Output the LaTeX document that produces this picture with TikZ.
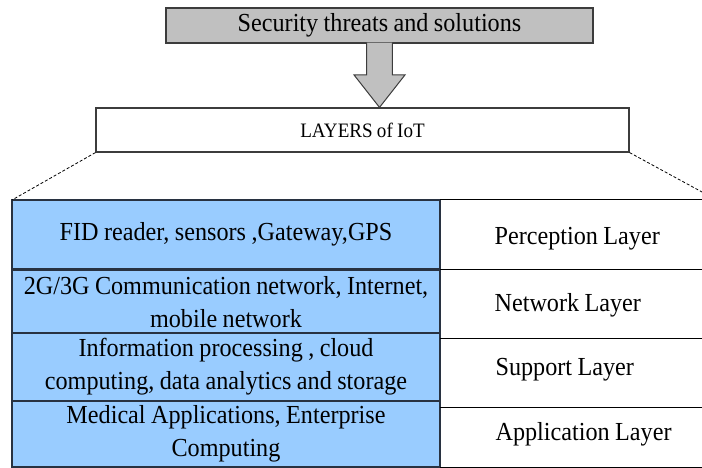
\documentclass[tikz,border=0pt]{standalone}
\usepackage{fontspec}
\setmainfont[FakeStretch=0.93, WordSpace=0.9]{Liberation Serif}
\usetikzlibrary{calc}

\definecolor{threatgray}{RGB}{192,192,192}
\definecolor{lyrblue}{RGB}{153,204,255}
\definecolor{rimgray}{RGB}{60,60,60}
\definecolor{rimblue}{RGB}{40,50,65}

\begin{document}
\begin{tikzpicture}
            [x=1pt, y=-1pt, line width=1.2pt, font=\fontsize{26}{33}\selectfont,
             lyrcell/.style={draw=rimblue, fill=lyrblue, minimum width=428pt,
                             align=center, inner sep=0pt, outer sep=0pt},
             lyrlabel/.style={anchor=base west, inner sep=0pt},
             fan/.style={dashed, dash pattern=on 3pt off 2pt, line width=0.8pt}]
            \useasboundingbox (0,0) rectangle (702,468);

            \node[draw=rimgray, fill=threatgray, minimum width=427pt, minimum height=35pt] (threat) at (379.5,25.5) {Security threats and solutions};
            \node[draw=rimgray, minimum width=533pt, minimum height=44pt, font=\fontsize{20.5}{24}\selectfont] (iot) at (362.5,130) {LAYERS of IoT};

            % block arrow, threats box down onto the layers box
            \draw[draw=rimgray, fill=threatgray, line width=1pt]
                ($(threat.south)+(-12.8,-1)$) |- ($(threat.south |- iot.north)+(-25.5,-32.5)$)
                -- (threat.south |- iot.north)
                -- ($(threat.south |- iot.north)+(25.5,-32.5)$) -| ($(threat.south)+(12.8,-1)$);

            \coordinate (fanR) at (702,192);

            \node[lyrcell, minimum height=69pt] (dev) at (226,234.5) {FID reader, sensors ,Gateway,GPS};
            \node[lyrcell, minimum height=64pt] (net) at (226,302.5) {2G/3G Communication network, Internet,\\ mobile network};
            \node[lyrcell, minimum height=68pt] (sup) at (226,367) {Information processing , cloud\\ computing, data analytics and storage};
            \node[lyrcell, minimum height=66pt] (app) at (226,434) {Medical Applications, Enterprise\\ Computing};

            \path [fan] (iot.south west) edge (dev.north west);
            \path [fan] (iot.south east) edge (fanR);

            % right column of the table
            \foreach \y in {200,269,338,407,467}
                \draw[line width=1pt] (440,\y) -- (702,\y);
            \node[lyrlabel] (perc) at (494,244) {Perception Layer};
            \node[lyrlabel] (netw) at (494,311.7) {Network Layer};
            \node[lyrlabel] (supp) at (495,375) {Support Layer};
            \node[lyrlabel] (appl) at (495,440.7) {Application Layer};
        \end{tikzpicture}
\end{document}
